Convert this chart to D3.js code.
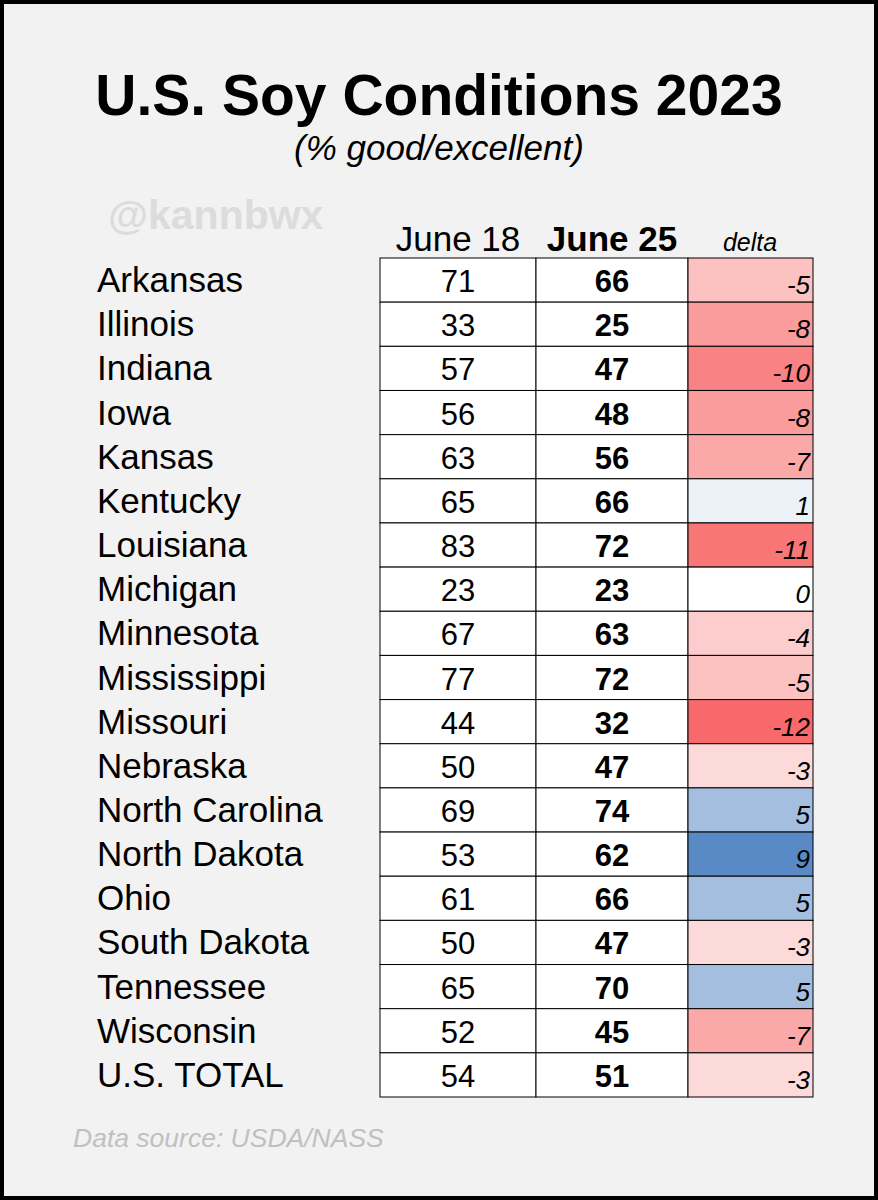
<!DOCTYPE html>
<html><head><meta charset="utf-8">
<script src="https://cdn.jsdelivr.net/npm/d3@7"></script>
<style>body{margin:0;background:#fff}</style></head>
<body><svg id="c" width="878" height="1200"></svg>
<script>
const states=["Arkansas","Illinois","Indiana","Iowa","Kansas","Kentucky","Louisiana","Michigan","Minnesota","Mississippi","Missouri","Nebraska","North Carolina","North Dakota","Ohio","South Dakota","Tennessee","Wisconsin","U.S. TOTAL"];
const june18=[71,33,57,56,63,65,83,23,67,77,44,50,69,53,61,50,65,52,54];
const june25=[66,25,47,48,56,66,72,23,63,72,32,47,74,62,66,47,70,45,51];
const headers=["June 18","June 25","delta"];
const deltas=june25.map((v,i)=>v-june18[i]);
const svg=d3.select("#c");
const F="Liberation Sans, Arial, sans-serif";
svg.append("rect").attr("x",2).attr("y",2).attr("width",874).attr("height",1196).attr("fill","#f2f2f2").attr("stroke","#000").attr("stroke-width",4);
svg.append("text").attr("x",439).attr("y",115).attr("text-anchor","middle").attr("font-family",F).attr("font-weight","bold").attr("font-size",57).text("U.S. Soy Conditions 2023");
svg.append("text").attr("x",439).attr("y",160).attr("text-anchor","middle").attr("font-family",F).attr("font-style","italic").attr("font-size",35).text("(% good/excellent)");
svg.append("text").attr("x",108).attr("y",229).attr("font-family",F).attr("font-weight","bold").attr("font-size",41).attr("fill","#dcdcdc").text("@kannbwx");
const y=d3.scaleBand().domain(states).range([258,1097]);
const cols=[380,536,688,813];
const red=d3.scaleLinear().domain([0,-12]).range(["#ffffff","#f8696b"]);
const blue=d3.scaleLinear().domain([0,9]).range(["#ffffff","#5a8ac6"]);
const hx=[458,612,750];
headers.forEach((h,i)=>svg.append("text").attr("x",hx[i]).attr("y",251).attr("text-anchor","middle").attr("font-family",F)
 .attr("font-size",i==2?25:35).attr("font-weight",i==1?"bold":"normal").attr("font-style",i==2?"italic":"normal").text(h));
const g=svg.selectAll("g.r").data(states).join("g");
g.each(function(s,i){
 const r=d3.select(this),y0=y(s),h=y.bandwidth(),d=deltas[i];
 r.append("text").attr("x",97).attr("y",y0+h/2+12).attr("font-family",F).attr("font-size",35).text(s);
 r.append("rect").attr("x",cols[0]).attr("y",y0).attr("width",cols[1]-cols[0]).attr("height",h).attr("fill","#fff").attr("stroke","#000");
 r.append("rect").attr("x",cols[1]).attr("y",y0).attr("width",cols[2]-cols[1]).attr("height",h).attr("fill","#fff").attr("stroke","#000");
 r.append("rect").attr("x",cols[2]).attr("y",y0).attr("width",cols[3]-cols[2]).attr("height",h).attr("fill",d<0?red(d):blue(d)).attr("stroke","#000");
 r.append("text").attr("x",458).attr("y",y0+h/2+12).attr("text-anchor","middle").attr("font-family",F).attr("font-size",31).text(june18[i]);
 r.append("text").attr("x",612).attr("y",y0+h/2+12).attr("text-anchor","middle").attr("font-family",F).attr("font-weight","bold").attr("font-size",31).text(june25[i]);
 r.append("text").attr("x",810).attr("y",y0+h/2+14).attr("text-anchor","end").attr("font-family",F).attr("font-style","italic").attr("font-size",26).text(d);
});
svg.append("text").attr("x",73).attr("y",1147).attr("font-family",F).attr("font-style","italic").attr("font-size",26.5).attr("fill","#c0c0c0").text("Data source: USDA/NASS");
</script></body></html>
